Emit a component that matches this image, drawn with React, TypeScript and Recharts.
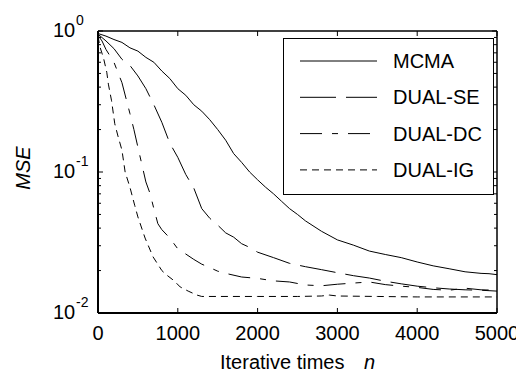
import React from "react";
import { LineChart, Line, XAxis, YAxis, Legend } from "recharts";

// MCMA (solid)
const mcmaN = [0, 100, 200, 300, 400, 500, 600, 700, 800, 900, 1000, 1100, 1200, 1300, 1400, 1500, 1600, 1700, 1800, 1900, 2000, 2100, 2200, 2300, 2400, 2500, 2600, 2800, 3000, 3200, 3400, 3600, 3800, 4000, 4200, 4400, 4600, 4800, 4900, 5000];
const mcmaMse = [0.96, 0.92, 0.87, 0.83, 0.76, 0.72, 0.65, 0.6, 0.52, 0.46, 0.39, 0.35, 0.3, 0.27, 0.235, 0.2, 0.168, 0.135, 0.117, 0.1, 0.088, 0.078, 0.07, 0.062, 0.055, 0.05, 0.045, 0.038, 0.033, 0.0303, 0.0275, 0.026, 0.0247, 0.023, 0.0216, 0.0206, 0.0196, 0.0191, 0.019, 0.0187];

// DUAL-SE (long dash)
const seN = [0, 100, 200, 300, 400, 500, 600, 700, 800, 900, 1000, 1100, 1200, 1300, 1400, 1500, 1600, 1700, 1800, 1900, 2000, 2200, 2400, 2600, 2800, 3000, 3200, 3400, 3600, 3800, 4000, 4200, 4400, 4600, 4800, 5000];
const seMse = [0.95, 0.85, 0.75, 0.63, 0.57, 0.48, 0.39, 0.3, 0.225, 0.16, 0.127, 0.096, 0.077, 0.055, 0.047, 0.042, 0.037, 0.0345, 0.031, 0.0292, 0.027, 0.0247, 0.0225, 0.0213, 0.0203, 0.0193, 0.0184, 0.0177, 0.0168, 0.0161, 0.0155, 0.0151, 0.0148, 0.0146, 0.0145, 0.0143];

// DUAL-DC (dash-dot)
const dcN = [0, 50, 100, 200, 300, 400, 450, 500, 600, 650, 700, 750, 800, 900, 1000, 1100, 1200, 1300, 1400, 1500, 1600, 1800, 2000, 2200, 2400, 2600, 2800, 3000, 3200, 3400, 3600, 3800, 4000, 4200, 4400, 4600, 4800, 5000];
const dcMse = [0.93, 0.85, 0.74, 0.6, 0.43, 0.26, 0.2, 0.15, 0.085, 0.071, 0.055, 0.043, 0.039, 0.034, 0.0285, 0.0262, 0.024, 0.0222, 0.021, 0.0198, 0.0191, 0.018, 0.0176, 0.0169, 0.0166, 0.0158, 0.0156, 0.016, 0.0163, 0.0166, 0.0159, 0.0155, 0.0152, 0.0147, 0.0145, 0.015, 0.0146, 0.0145];

// DUAL-IG (short dash)
const igN = [0, 25, 70, 110, 130, 170, 210, 250, 300, 340, 400, 460, 500, 590, 690, 800, 860, 950, 1030, 1130, 1240, 1300, 1500, 2000, 2500, 2800, 2900, 3000, 3500, 4000, 4500, 5000];
const igMse = [0.92, 0.77, 0.64, 0.51, 0.42, 0.32, 0.22, 0.18, 0.143, 0.1, 0.078, 0.058, 0.048, 0.034, 0.025, 0.02, 0.0186, 0.017, 0.0153, 0.0143, 0.0134, 0.0131, 0.0131, 0.0131, 0.0131, 0.0132, 0.0134, 0.0132, 0.0131, 0.013, 0.013, 0.013];

const seriesNames = ["MCMA", "DUAL-SE", "DUAL-DC", "DUAL-IG"];
const xTicks = [0, 1000, 2000, 3000, 4000, 5000];
const yMajor = [0.01, 0.1, 1];
const yTicks = [0.01, 0.02, 0.03, 0.04, 0.05, 0.06, 0.07, 0.08, 0.09, 0.1, 0.2, 0.3, 0.4, 0.5, 0.6, 0.7, 0.8, 0.9, 1];

const dashes = [undefined, "36 10", "22 10 6 10", "7 5"];
const FONT = "'Liberation Sans', Arial, sans-serif";

const zip = (n: number[], v: number[]) => n.map((x, i) => ({ n: x, mse: v[i] }));
const series = [zip(mcmaN, mcmaMse), zip(seN, seMse), zip(dcN, dcMse), zip(igN, igMse)];

const LeftTick = (props: any) => {
  const { x, y, payload } = props;
  const major = yMajor.includes(payload.value);
  const exp = Math.round(Math.log10(payload.value));
  return (
    <g>
      <line x1={x} x2={x + (major ? 5 : 3)} y1={y} y2={y} stroke="#000" />
      {major && (
        <g fontFamily={FONT} fill="#000">
          <text x={x - 45} y={y + 6} fontSize={20}>10</text>
          <text x={x - 22} y={y - 6} fontSize={14}>{exp}</text>
        </g>
      )}
    </g>
  );
};

const RightTick = (props: any) => {
  const { x, y, payload } = props;
  const major = yMajor.includes(payload.value);
  return <line x1={x} x2={x - (major ? 5 : 3)} y1={y} y2={y} stroke="#000" />;
};

const BottomTick = (props: any) => {
  const { x, y, payload } = props;
  return (
    <g>
      <line x1={x} x2={x} y1={y} y2={y - 5} stroke="#000" />
      <text x={x} y={y + 27} textAnchor="middle" fontSize={20} fontFamily={FONT} fill="#000">
        {payload.value}
      </text>
    </g>
  );
};

const TopTick = (props: any) => {
  const { x, y } = props;
  return <line x1={x} x2={x} y1={y} y2={y + 5} stroke="#000" />;
};

const renderLegend = () => (
  <div style={{ width: 211, height: 157, border: "1px solid #000", background: "#fff", boxSizing: "border-box" }}>
    <svg width={209} height={155} style={{ display: "block" }}>
      {seriesNames.map((name, i) => {
        const y = 22 + i * 36.3;
        return (
          <g key={name}>
            <line x1={16} x2={93} y1={y} y2={y} stroke="#000" strokeDasharray={dashes[i]} />
            <text x={109} y={y + 7} fontSize={20} fontFamily={FONT} fill="#000">{name}</text>
          </g>
        );
      })}
    </svg>
  </div>
);

export default function App() {
  return (
    <div style={{ position: "relative", width: 516, height: 365 }}>
      <LineChart width={516} height={365} margin={{ top: 18, right: 17, bottom: 10, left: 30 }}>
        <XAxis
          dataKey="n"
          type="number"
          domain={[0, 5000]}
          ticks={xTicks}
          allowDataOverflow
          tickSize={0}
          tickMargin={0}
          tickLine={false}
          axisLine={{ stroke: "#000", strokeWidth: 2 }}
          tick={<BottomTick />}
          height={50}
          interval={0}
        />
        <XAxis
          xAxisId="t"
          orientation="top"
          dataKey="n"
          type="number"
          domain={[0, 5000]}
          ticks={xTicks}
          allowDataOverflow
          tickSize={0}
          tickMargin={0}
          tickLine={false}
          axisLine={{ stroke: "#000", strokeWidth: 1.5 }}
          tick={<TopTick />}
          height={5}
          interval={0}
        />
        <YAxis
          type="number"
          scale="log"
          domain={[0.01, 1]}
          ticks={yTicks}
          allowDataOverflow
          tickSize={0}
          tickMargin={0}
          tickLine={false}
          axisLine={{ stroke: "#000", strokeWidth: 2 }}
          tick={<LeftTick />}
          width={60}
          interval={0}
        />
        <YAxis
          yAxisId="r"
          orientation="right"
          type="number"
          scale="log"
          domain={[0.01, 1]}
          ticks={yTicks}
          allowDataOverflow
          tickSize={0}
          tickMargin={0}
          tickLine={false}
          axisLine={{ stroke: "#000", strokeWidth: 1.5 }}
          tick={<RightTick />}
          width={10}
          interval={0}
        />
        {series.map((d, i) => (
          <Line
            key={seriesNames[i]}
            data={d}
            dataKey="mse"
            name={seriesNames[i]}
            type="linear"
            stroke="#000"
            strokeWidth={1}
            strokeDasharray={dashes[i]}
            dot={false}
            activeDot={false}
            isAnimationActive={false}
          />
        ))}
        <Legend
          layout="horizontal"
          verticalAlign="middle"
          align="center"
          content={renderLegend}
          wrapperStyle={{ left: 275, top: 30, width: 211, height: 157 }}
        />
      </LineChart>
      <svg width={516} height={365} style={{ position: "absolute", left: 0, top: 0, pointerEvents: "none" }}>
        <text
          x={15}
          y={160}
          transform="rotate(-90, 15, 160)"
          textAnchor="middle"
          dominantBaseline="central"
          fontSize={20}
          fontStyle="italic"
          fontFamily={FONT}
          fill="#000"
        >
          MSE
        </text>
        <text x={212} y={361} fontSize={20} fontFamily={FONT} fill="#000">
          Iterative times
          <tspan x={356} fontStyle="italic">n</tspan>
        </text>
      </svg>
    </div>
  );
}
